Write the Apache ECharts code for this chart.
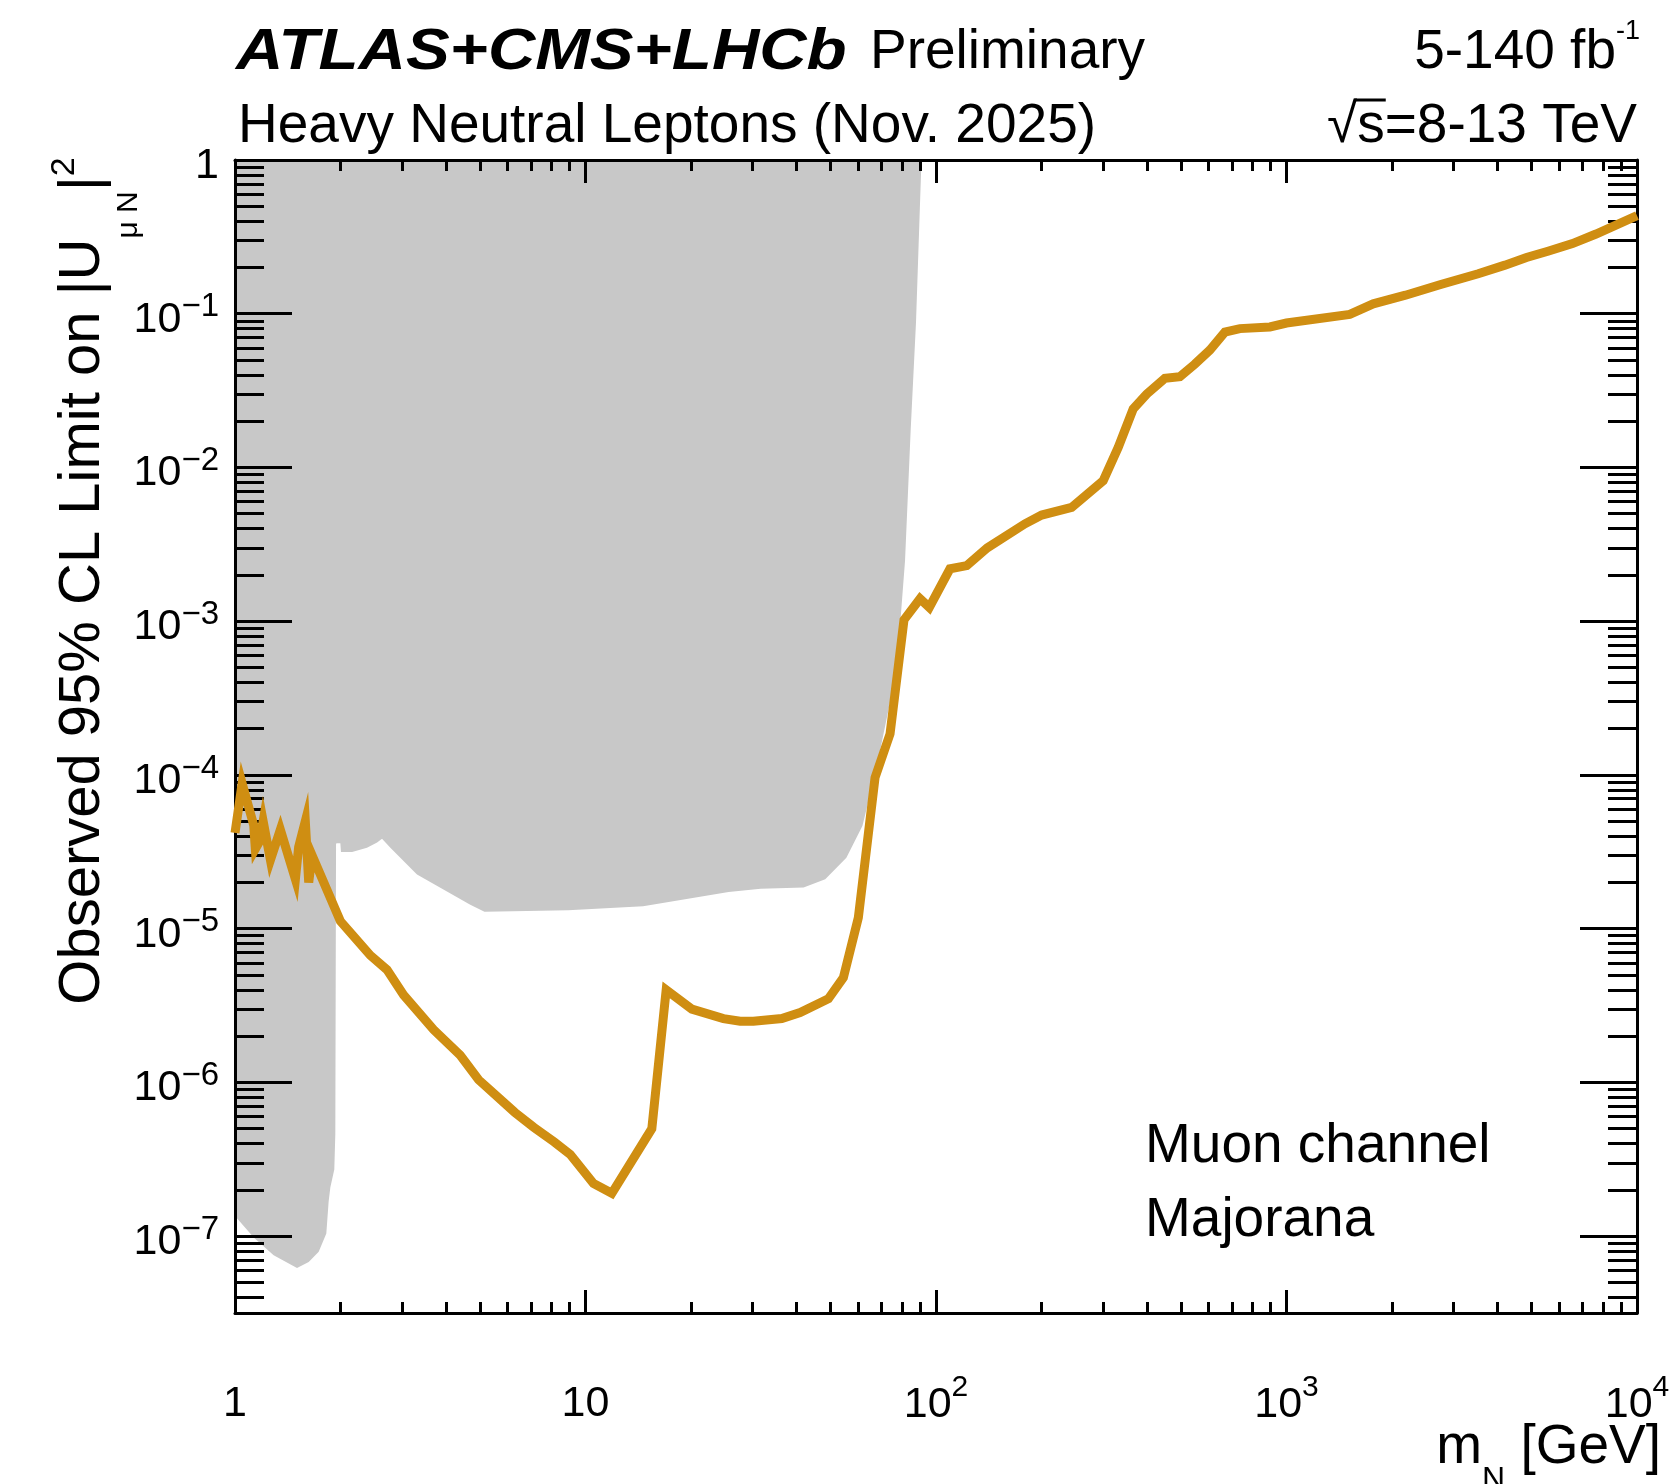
<!DOCTYPE html>
<html>
<head>
<meta charset="utf-8">
<script src="https://cdn.jsdelivr.net/npm/echarts@6/dist/echarts.min.js"></script>
<style>
html,body{margin:0;padding:0;background:#ffffff;}
#chart{width:1680px;height:1484px;}
</style>
</head>
<body>
<div id="chart"></div>
<script>
// ---------------- data ----------------
// Observed 95% CL limit, muon channel, Majorana
const massObs = [1.0, 1.048, 1.131, 1.143, 1.176, 1.203, 1.262, 1.347, 1.487, 1.519, 1.587, 1.623, 1.659,
  1.998, 2.433, 2.715, 3.027, 3.687, 4.392, 4.954, 6.277, 7.122, 8.137, 9.046, 10.54, 11.89, 15.46, 16.99,
  20.11, 24.75, 27.62, 30.13, 36.31, 40.95, 49.31, 54.42, 60.04, 67.0, 73.95, 81.03, 90.03, 95.7, 109.6,
  122.4, 140, 179.4, 200.2, 243.8, 300, 331, 365.2, 398.9, 449.8, 496.4, 547.6, 604.4, 667.2, 736.2, 896.6,
  1000, 1515, 1768, 2185, 2754, 3523, 4200, 4838, 5569, 6545, 7641, 10000];
const limitObs = [4.2e-5, 8.8e-5, 4.7e-5, 3.3e-5, 3.7e-5, 5.0e-5, 2.8e-5, 4.4e-5, 2.1e-5, 3.4e-5, 5.0e-5, 2.0e-5, 3.0e-5,
  1.12e-5, 6.7e-6, 5.4e-6, 3.7e-6, 2.2e-6, 1.5e-6, 1.04e-6, 6.4e-7, 5.1e-7, 4.1e-7, 3.4e-7, 2.2e-7, 1.9e-7, 5.0e-7, 4.0e-6,
  3.0e-6, 2.6e-6, 2.5e-6, 2.5e-6, 2.6e-6, 2.85e-6, 3.5e-6, 4.8e-6, 1.18e-5, 9.6e-5, 1.85e-4, 1.02e-3, 1.40e-3, 1.23e-3, 2.19e-3,
  2.30e-3, 3.0e-3, 4.3e-3, 4.9e-3, 5.5e-3, 8.2e-3, 1.35e-2, 2.4e-2, 3.0e-2, 3.8e-2, 3.9e-2, 4.7e-2, 5.8e-2, 7.6e-2, 8.0e-2, 8.2e-2,
  8.7e-2, 9.9e-2, 0.116, 0.132, 0.155, 0.182, 0.207, 0.232, 0.255, 0.286, 0.330, 0.434];

// Previously excluded region (grey), boundary polygon
const exclMass = [1, 1, 1.131, 1.289, 1.503, 1.623, 1.733, 1.822, 1.850, 1.871, 1.920, 1.933, 1.942, 1.947,
  1.998, 2.006, 2.158, 2.380, 2.543, 2.627, 2.775, 3.306, 4.691, 5.15, 8.92, 14.6, 25.6, 31.6, 41.9, 48.3,
  55.5, 61.7, 67.7, 74.8, 78.9, 81.6, 84.7, 87.7, 90.9];
const exclLimit = [1, 1.35e-7, 9.8e-8, 7.5e-8, 6.2e-8, 6.8e-8, 7.9e-8, 1.04e-7, 1.68e-7, 2.08e-7, 2.71e-7, 4.64e-7, 3.54e-5, 3.6e-5,
  3.6e-5, 3.15e-5, 3.15e-5, 3.36e-5, 3.64e-5, 3.84e-5, 3.36e-5, 2.25e-5, 1.43e-5, 1.29e-5, 1.32e-5, 1.40e-5, 1.73e-5, 1.82e-5, 1.85e-5, 2.10e-5,
  2.89e-5, 4.68e-5, 1.12e-4, 3.37e-4, 9.13e-4, 2.48e-3, 1.78e-2, 8.85e-2, 1];

// axes
const xRange = [1, 10000];
const yRange = [3.1623e-8, 1];
const xTickValues = [1, 10, 100, 1000, 10000];
const xTickLabels = ['1', '10', '10^2', '10^3', '10^4'];
const yTickValues = [1e-7, 1e-6, 1e-5, 1e-4, 1e-3, 1e-2, 1e-1, 1];
const yTickLabels = ['10^\u22127', '10^\u22126', '10^\u22125', '10^\u22124', '10^\u22123', '10^\u22122', '10^\u22121', '1'];

// ---------------- helpers ----------------
const FAM = '"Liberation Sans", Arial, Helvetica, sans-serif';
const BLACK = '#000000';
const LINE_COLOR = '#CF8E12';
const GREY = '#C8C8C8';

function toRich(s) {
  const p = s.split('^');
  return p.length > 1 ? '{b|' + p[0] + '}{s|' + p[1] + '}' : '{b|' + p[0] + '}';
}
function minorLogTicks(lo, hi) {
  const out = [];
  for (let e = Math.floor(lo); e < hi; e++) {
    for (let d = 2; d <= 9; d++) {
      const v = e + Math.log10(d);
      if (v > lo + 1e-9 && v < hi - 1e-9) out.push(v);
    }
  }
  return out;
}
const xLog = [Math.log10(xRange[0]), Math.log10(xRange[1])];
const yLog = [Math.log10(yRange[0]), Math.log10(yRange[1])];
const xMajor = xTickValues.map(Math.log10);
const yMajor = yTickValues.map(Math.log10);
const xMinor = minorLogTicks(xLog[0], xLog[1]);
const yMinor = minorLogTicks(yLog[0], yLog[1]);
const xLabelMap = {}; xTickValues.forEach((v, i) => { xLabelMap[Math.round(Math.log10(v))] = xTickLabels[i]; });
const yLabelMap = {}; yTickValues.forEach((v, i) => { yLabelMap[Math.round(Math.log10(v))] = yTickLabels[i]; });

function decoAxis(range, pos, vals, len, showLine, label) {
  return {
    type: 'value', gridIndex: 0, position: pos, min: range[0], max: range[1], z: 3, silent: true,
    axisLine: { show: showLine, onZero: false, lineStyle: { color: BLACK, width: 3 } },
    axisTick: { show: true, inside: true, length: len, customValues: vals, lineStyle: { color: BLACK, width: 3 } },
    axisLabel: label || { show: false },
    splitLine: { show: false }, minorTick: { show: false }, minorSplitLine: { show: false },
    axisPointer: { show: false }
  };
}

function tok(size, extra) {
  return Object.assign({ fontFamily: FAM, fontSize: size, fill: BLACK, color: BLACK }, extra || {});
}

// text width measurement (for the overline of the square root)
const measureCtx = document.createElement('canvas').getContext('2d');
function textWidth(str, size) {
  measureCtx.font = size + 'px ' + FAM;
  return measureCtx.measureText(str).width;
}

const xLabel = {
  show: true, customValues: xMajor, margin: 60, fontFamily: FAM, fontSize: 43, color: BLACK,
  formatter: v => toRich(xLabelMap[Math.round(v)]),
  rich: {
    b: { fontFamily: FAM, fontSize: 43, color: BLACK, lineHeight: 62 },
    s: { fontFamily: FAM, fontSize: 30, color: BLACK, padding: [0, 0, 34, 0] }
  }
};
const yLabel = {
  show: true, customValues: yMajor, margin: 16, fontFamily: FAM, fontSize: 43, color: BLACK, align: 'right',
  formatter: v => toRich(yLabelMap[Math.round(v)]),
  rich: {
    b: { fontFamily: FAM, fontSize: 43, color: BLACK, padding: [12, 0, 0, 0] },
    s: { fontFamily: FAM, fontSize: 33, color: BLACK, padding: [0, 0, 13, 0] }
  }
};

const chart = echarts.init(document.getElementById('chart'), null, { renderer: 'canvas', width: 1680, height: 1484 });

// sqrt(s) overline geometry
const rootRight = 1637;
const rootFs = 55;
const rootRest = '=8-13 TeV';
const sRight = rootRight - textWidth(rootRest, rootFs);
const sLeft = rootRight - textWidth('s' + rootRest, rootFs);
const rootLeft = rootRight - textWidth('\u221As' + rootRest, rootFs);

const option = {
  animation: false,
  backgroundColor: '#ffffff',
  grid: { left: 235, top: 160, width: 1402, height: 1153, containLabel: false },
  xAxis: [
    { type: 'log', logBase: 10, gridIndex: 0, min: xRange[0], max: xRange[1], show: false, position: 'bottom' },
    decoAxis(xLog, 'bottom', xMajor, 23, true, xLabel),
    decoAxis(xLog, 'bottom', xMinor, 11, false, null),
    decoAxis(xLog, 'top', xMajor, 23, true, null),
    decoAxis(xLog, 'top', xMinor, 11, false, null)
  ],
  yAxis: [
    { type: 'log', logBase: 10, gridIndex: 0, min: yRange[0], max: yRange[1], show: false, position: 'left' },
    decoAxis(yLog, 'left', yMajor, 57, true, yLabel),
    decoAxis(yLog, 'left', yMinor, 29, false, null),
    decoAxis(yLog, 'right', yMajor, 57, true, null),
    decoAxis(yLog, 'right', yMinor, 29, false, null)
  ],
  series: [
    {
      type: 'custom', name: 'excluded', xAxisIndex: 0, yAxisIndex: 0, z: 1, silent: true,
      data: exclMass.map((m, i) => [m, exclLimit[i]]),
      renderItem: function (params, api) {
        if (params.dataIndex !== 0) return null;
        const pts = exclMass.map((m, i) => api.coord([m, exclLimit[i]]));
        return { type: 'polygon', shape: { points: pts }, style: { fill: GREY, stroke: null } };
      }
    },
    {
      type: 'line', name: 'Observed', xAxisIndex: 0, yAxisIndex: 0, z: 5, silent: true,
      data: massObs.map((m, i) => [m, limitObs[i]]),
      showSymbol: false, symbol: 'none', smooth: false,
      lineStyle: { color: LINE_COLOR, width: 9, join: 'miter', miterLimit: 10, cap: 'butt' }
    }
  ],
  graphic: [
    { type: 'text', x: 236, y: 53, scaleX: 1.15, silent: true,
      style: { text: 'ATLAS+CMS+LHCb', fontFamily: FAM, fontSize: 57, fontWeight: 'bold', fontStyle: 'italic', fill: BLACK,
        align: 'left', textAlign: 'left', verticalAlign: 'middle', textVerticalAlign: 'middle' } },
    { type: 'text', x: 870, y: 53, silent: true,
      style: { text: 'Preliminary', fontFamily: FAM, fontSize: 55, fill: BLACK,
        align: 'left', textAlign: 'left', verticalAlign: 'middle', textVerticalAlign: 'middle' } },
    { type: 'text', x: 238, y: 127, silent: true,
      style: { text: 'Heavy Neutral Leptons (Nov. 2025)', fontFamily: FAM, fontSize: 55, fill: BLACK,
        align: 'left', textAlign: 'left', verticalAlign: 'middle', textVerticalAlign: 'middle' } },
    { type: 'text', x: 1640, y: 53, silent: true,
      style: { text: '{a|5-140 fb}{s|-1}', fontFamily: FAM, fontSize: 55, fill: BLACK,
        align: 'right', textAlign: 'right', verticalAlign: 'middle', textVerticalAlign: 'middle',
        rich: { a: tok(55), s: tok(27, { padding: [0, 0, 42, 0] }) } } },
    { type: 'text', x: rootRight, y: 127, silent: true,
      style: { text: '\u221As' + rootRest, fontFamily: FAM, fontSize: rootFs, fill: BLACK,
        align: 'right', textAlign: 'right', verticalAlign: 'middle', textVerticalAlign: 'middle' } },
    { type: 'line', silent: true,
      shape: { x1: sLeft - 3, y1: 100, x2: sRight + 1, y2: 100 },
      style: { stroke: BLACK, lineWidth: 3 } },
    { type: 'text', x: 1145, y: 1147, silent: true,
      style: { text: 'Muon channel', fontFamily: FAM, fontSize: 55, fill: BLACK,
        align: 'left', textAlign: 'left', verticalAlign: 'middle', textVerticalAlign: 'middle' } },
    { type: 'text', x: 1145, y: 1221, silent: true,
      style: { text: 'Majorana', fontFamily: FAM, fontSize: 55, fill: BLACK,
        align: 'left', textAlign: 'left', verticalAlign: 'middle', textVerticalAlign: 'middle' } },
    { type: 'text', x: 1661, y: 1448, silent: true,
      style: { text: '{a|m}{sub|N}{a| [GeV]}', fontFamily: FAM, fontSize: 55, fill: BLACK,
        align: 'right', textAlign: 'right', verticalAlign: 'middle', textVerticalAlign: 'middle',
        rich: { a: tok(55), sub: tok(32, { padding: [64, 0, 0, 0] }) } } },
    { type: 'text', x: 83, y: 581, rotation: Math.PI / 2, silent: true,
      style: { text: '{a|Observed 95% CL Limit on |U}{sub|\u03BC N}{a||}{sup|2}', fontFamily: FAM, fontSize: 58, fill: BLACK,
        align: 'center', textAlign: 'center', verticalAlign: 'middle', textVerticalAlign: 'middle',
        rich: { a: tok(58), sub: tok(30, { padding: [92, 0, 0, 0] }), sup: tok(34, { padding: [0, 0, 36, 0] }) } } }
  ]
};
chart.setOption(option);
</script>
</body>
</html>
